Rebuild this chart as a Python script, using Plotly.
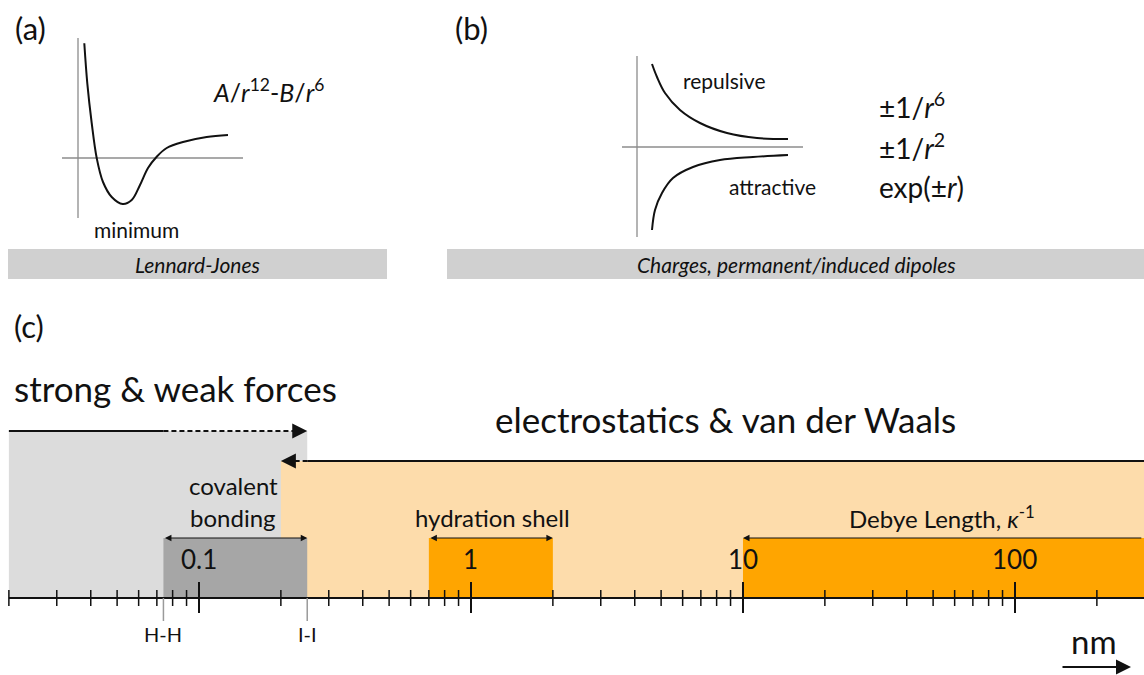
import math
import plotly.graph_objects as go

W, H = 1144, 675
FONT = "Lato"
INK = "#111111"

# ---------------- panel (c): length scale, nm ----------------
major_ticks = [0.1, 1, 10, 100]
major_labels = ["0.1", "1", "10", "100"]
minor_ticks = [0.02, 0.03, 0.04, 0.05, 0.06, 0.07, 0.08, 0.09,
               0.2, 0.3, 0.4, 0.5, 0.6, 0.7, 0.8, 0.9,
               2, 3, 4, 5, 6, 7, 8, 9,
               20, 30, 40, 50, 60, 70, 80, 90, 200]
bond_names = ["H-H", "I-I"]
bond_lengths = [0.074, 0.25]
scale_range = [0.02, 300]
strong_range = [0.02, 0.25]      # strong & weak forces
electro_range = [0.2, 300]       # electrostatics & van der Waals
covalent_range = [0.074, 0.25]   # covalent bonding
hydration_range = [0.7, 2.0]     # hydration shell
debye_range = [10, 300]          # Debye length

# ---------------- panel (a): Lennard-Jones sketch ----------------
lj_r = [6.3, 9.3, 13.7, 18.7, 25, 33.7, 44.7, 53.7, 62, 70, 78.7, 88.7, 105, 128.7, 150]
lj_u = [114.7, 74.7, 35, 0, -24, -39, -46, -42, -27, -10, 1.3, 10, 16, 21, 23]

# ---------------- panel (b): repulsive / attractive sketch ----------------
rep_r = [15, 20, 28, 43, 63, 90, 120, 151]
rep_u = [83, 70, 54, 37, 24, 14, 9, 8]
att_r = [15, 18, 25, 36, 56, 83, 116, 151]
att_u = [-83, -63, -46, -31, -20, -13, -10, -8]

L = math.log10
fig = go.Figure()


def rect(x0, x1, y0, y1, color):
    fig.add_trace(go.Scatter(x=[x0, x1, x1, x0, x0], y=[y0, y0, y1, y1, y0],
                             mode="lines", fill="toself", fillcolor=color,
                             line=dict(width=0), hoverinfo="skip", showlegend=False,
                             xaxis="x", yaxis="y"))


def seg(xs, ys, color=INK, width=2, dash="solid", xa="x", ya="y", shape="linear"):
    fig.add_trace(go.Scatter(x=xs, y=ys, mode="lines",
                             line=dict(color=color, width=width, dash=dash, shape=shape),
                             hoverinfo="skip", showlegend=False, xaxis=xa, yaxis=ya))


# ---- panel (c) regions ----
Y_AX = 598
rect(strong_range[0], strong_range[1], 431, Y_AX, "#dcdcdc")
rect(electro_range[0], electro_range[1], 461, Y_AX, "#fddcab")
rect(covalent_range[0], covalent_range[1], 538, Y_AX, "#a6a6a6")
rect(hydration_range[0], hydration_range[1], 538, Y_AX, "#ffa500")
rect(debye_range[0], debye_range[1], 538, Y_AX, "#ffa500")

# range arrows' shafts
seg([strong_range[0], bond_lengths[0]], [431, 431], width=2)
seg([bond_lengths[0], strong_range[1] * 0.95], [431, 431], width=2, dash="5px,3px")
seg([electro_range[0] * 1.05, bond_lengths[1]], [461, 461], width=2, dash="5px,3px")
seg([bond_lengths[1], electro_range[1]], [461, 461], width=2)

# axis line and ticks
seg(scale_range, [Y_AX, Y_AX], width=2)
tx, ty = [], []
for v in minor_ticks:
    tx += [v, v, None]
    ty += [Y_AX - 8, Y_AX + 8, None]
seg(tx, ty, width=1.5)
tx, ty = [], []
for v in major_ticks:
    tx += [v, v, None]
    ty += [Y_AX - 16, Y_AX + 15, None]
seg(tx, ty, width=2)
tx, ty = [], []
for v in bond_lengths:
    tx += [v, v, None]
    ty += [Y_AX, Y_AX + 23, None]
seg(tx, ty, color="#9a9a9a", width=1.5)

# ---- panel (a) sketch ----
seg([0, 0], [-60, 120], color="#8c8c8c", width=1.3, xa="x2", ya="y2")
seg([-16, 165], [0, 0], color="#8c8c8c", width=1.3, xa="x2", ya="y2")
seg(lj_r, lj_u, width=2, xa="x2", ya="y2", shape="spline")

# ---- panel (b) sketch ----
seg([0, 0], [-90, 91], color="#8c8c8c", width=1.3, xa="x3", ya="y3")
seg([-15, 166], [0, 0], color="#8c8c8c", width=1.3, xa="x3", ya="y3")
seg(rep_r, rep_u, width=2, xa="x3", ya="y3", shape="spline")
seg(att_r, att_u, width=2, xa="x3", ya="y3", shape="spline")

ann = []


def text(t, x, y, size, xref="paper", xanchor="center", color=INK):
    ann.append(dict(text=t, x=x, y=y, xref=xref, yref="y", xanchor=xanchor,
                    yanchor="middle", showarrow=False,
                    font=dict(family=FONT, size=size, color=color)))


# panel labels
text("(a)", 31 / W, 28, 31)
text("(b)", 471 / W, 28, 31)
text("(c)", 29 / W, 326, 31)

# panel (a)
text("<i>A</i>/<i>r</i><sup>12</sup>-<i>B</i>/<i>r</i><sup>6</sup>", 268 / W, 90, 25)
text("minimum", 136 / W, 229, 21)
text("<i>Lennard-Jones</i>", 197 / W, 264, 21)

# panel (b)
text("repulsive", 724 / W, 80, 21)
text("attractive", 772 / W, 186, 21)
text("±1/<i>r</i><sup>6</sup>", 877 / W, 105, 28, xanchor="left")
text("±1/<i>r</i><sup>2</sup>", 877 / W, 146, 28, xanchor="left")
text("exp(±<i>r</i>)", 877 / W, 187, 28, xanchor="left")
text("<i>Charges, permanent/induced dipoles</i>", 796 / W, 264, 21)

# panel (c)
text("strong &amp; weak forces", 12 / W, 388, 35, xanchor="left")
text("electrostatics &amp; van der Waals", 725 / W, 419, 35)
text("covalent", 233 / W, 485, 24)
text("bonding", 233 / W, 517, 24)
text("hydration shell", 492 / W, 517, 24)
text("Debye Length, <i>κ</i><sup>-1</sup>", 942 / W, 517, 24)
for v, lab in zip(major_ticks, major_labels):
    text(lab, L(v), 559, 26, xref="x")
for v, lab in zip(bond_lengths, bond_names):
    text(lab, L(v), 634, 20, xref="x")
text("nm", 1094 / W, 641, 33)

# arrow heads
def arrow_head(x, y, ax, width=2, size=1.5):
    ann.append(dict(x=L(x), y=y, xref="x", yref="y", ax=ax, ay=0, text="",
                    showarrow=True, arrowhead=2, arrowsize=size, arrowwidth=width,
                    arrowcolor=INK, standoff=0))

arrow_head(strong_range[1], 431, -16)
arrow_head(electro_range[0], 461, 16)


def span_arrow(x0, x1, y, both=True):
    ann.append(dict(x=L(x1), y=y, ax=L(x0), ay=y, xref="x", yref="y",
                    axref="x", ayref="y", text="", showarrow=True,
                    arrowhead=2, startarrowhead=2, arrowsize=1.3, startarrowsize=1.3,
                    arrowwidth=1, arrowcolor=INK,
                    arrowside="end+start" if both else "end",
                    standoff=0, startstandoff=0))

span_arrow(covalent_range[0], covalent_range[1], 538)
span_arrow(hydration_range[0], hydration_range[1], 538)
span_arrow(10 ** 2.47, debye_range[0], 538, both=False)

# nm arrow
ann.append(dict(x=1131 / W, y=667, xref="paper", yref="y", ax=-70, ay=0, text="",
                showarrow=True, arrowhead=2, arrowsize=1.5, arrowwidth=2,
                arrowcolor=INK, standoff=0))

shapes = [
    dict(type="rect", xref="paper", yref="y", x0=8 / W, x1=387 / W, y0=249, y1=279,
         fillcolor="#d0d0d0", line=dict(width=0), layer="below"),
    dict(type="rect", xref="paper", yref="y", x0=447 / W, x1=1.0, y0=249, y1=279,
         fillcolor="#d0d0d0", line=dict(width=0), layer="below"),
]

hidden = dict(visible=False, showgrid=False, zeroline=False, fixedrange=True)
fig.update_layout(
    width=W, height=H, margin=dict(l=0, r=0, t=0, b=0),
    paper_bgcolor="white", plot_bgcolor="rgba(0,0,0,0)",
    showlegend=False, annotations=ann, shapes=shapes,
    font=dict(family=FONT, color=INK),
    xaxis=dict(type="log", range=[-1.7316, 2.4743], domain=[0, 1], anchor="y", **hidden),
    yaxis=dict(range=[H, 0], domain=[0, 1], anchor="x", **hidden),
    xaxis2=dict(range=[-16, 165], domain=[62 / W, 243 / W], anchor="y2", **hidden),
    yaxis2=dict(range=[-60, 120], domain=[1 - 218 / H, 1 - 38 / H], anchor="x2", **hidden),
    xaxis3=dict(range=[-15, 166], domain=[622 / W, 803 / W], anchor="y3", **hidden),
    yaxis3=dict(range=[-90, 91], domain=[1 - 237 / H, 1 - 56 / H], anchor="x3", **hidden),
)

fig.write_html("out.html", config={"displayModeBar": False, "staticPlot": True},
               post_script="document.body.style.margin='0';")
